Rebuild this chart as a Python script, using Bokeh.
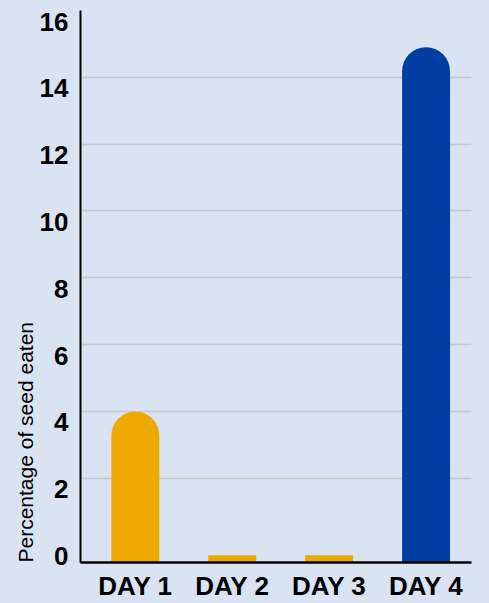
from bokeh.plotting import figure
from bokeh.models import FixedTicker, Range1d, ColumnDataSource, LinearAxis, Grid, Title
from bokeh.embed import file_html
from bokeh.resources import INLINE

# ---- data ----
days = ["DAY 1", "DAY 2", "DAY 3", "DAY 4"]
seed_eaten = [4.0, -0.3, -0.3, 14.9]
bar_colors = ["#EEA900", "#EEA900", "#EEA900", "#003EA4"]
y_ticks = [0, 2, 4, 6, 8, 10, 12, 14, 16]
grid_ticks = [2, 4, 6, 8, 10, 12, 14, 16]
y_label = "Percentage of seed eaten"
y_start = -0.52
y_end = 16
label_shift = 0.33  # tick labels sit slightly below their gridlines

BG = "#d9e3f1"
FONT = "Liberation Sans"

positions = list(range(1, len(days) + 1))

p = figure(width=489, height=603, output_backend="svg", toolbar_location=None,
           x_range=Range1d(0.434, 4.469), y_range=Range1d(y_start, y_end),
           y_axis_location=None,
           min_border_left=80, min_border_right=18, min_border_top=10, min_border_bottom=40)
p.extra_y_ranges = {"labels": Range1d(y_start + label_shift, y_end + label_shift)}

p.background_fill_color = BG
p.border_fill_color = BG
p.outline_line_color = None

tall = [i for i, v in enumerate(seed_eaten) if v > 1]
short = [i for i, v in enumerate(seed_eaten) if v <= 1]

src_tall = ColumnDataSource(dict(x=[positions[i] for i in tall],
                                 top=[seed_eaten[i] for i in tall],
                                 color=[bar_colors[i] for i in tall]))
src_short = ColumnDataSource(dict(x=[positions[i] for i in short],
                                  top=[seed_eaten[i] for i in short],
                                  color=[bar_colors[i] for i in short]))

# grid
p.xgrid.grid_line_color = None
p.ygrid.visible = False
p.add_layout(Grid(dimension=1, ticker=FixedTicker(ticks=grid_ticks),
                  grid_line_color="#c6c8cc", grid_line_width=1.5))

p.vbar(x="x", top="top", bottom=y_start, width=0.495, color="color",
       line_color=None, border_radius=(24, 24, 0, 0), source=src_tall)
p.vbar(x="x", top="top", bottom=y_start, width=0.495, color="color",
       line_color=None, source=src_short)

# y axis
yax = LinearAxis(y_range_name="labels", ticker=FixedTicker(ticks=y_ticks))
yax.axis_line_color = "black"
yax.axis_line_width = 2
yax.major_tick_line_color = None
yax.minor_tick_line_color = None
yax.major_tick_out = 0
yax.major_tick_in = 0
yax.major_label_standoff = 12
yax.major_label_text_font = FONT
yax.major_label_text_font_style = "bold"
yax.major_label_text_font_size = "26px"
yax.major_label_text_color = "black"
p.add_layout(yax, "left")

# y axis title, aligned to the bottom of the axis
p.add_layout(Title(text=y_label, align="left", text_font=FONT,
                   text_font_size="21px", text_font_style="normal",
                   text_color="black", standoff=0, offset=0), "left")

# x axis
p.xaxis.ticker = FixedTicker(ticks=positions)
p.xaxis.major_label_overrides = {pos: d for pos, d in zip(positions, days)}
p.xaxis.axis_line_color = "black"
p.xaxis.axis_line_width = 2.5
p.xaxis.major_tick_line_color = None
p.xaxis.minor_tick_line_color = None
p.xaxis.major_tick_out = 0
p.xaxis.major_tick_in = 0
p.xaxis.major_label_standoff = 8
p.xaxis.major_label_text_font = FONT
p.xaxis.major_label_text_font_style = "bold"
p.xaxis.major_label_text_font_size = "26px"
p.xaxis.major_label_text_color = "black"

html = file_html(p, INLINE)
html = html.replace("</head>", "<style>html,body{background:%s;margin:0;}</style></head>" % BG, 1)
open("out.html", "w").write(html)
